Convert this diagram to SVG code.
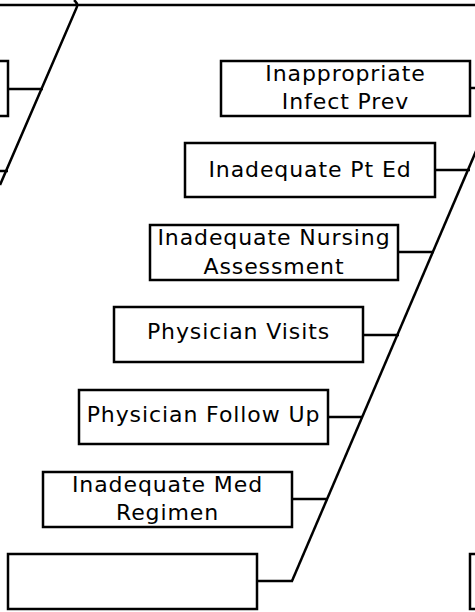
<svg xmlns="http://www.w3.org/2000/svg" width="475" height="612" viewBox="0 0 475 612">
<style>
.box{fill:#fff;stroke:#000;stroke-width:2.5}
.ln{fill:none;stroke:#000;stroke-width:2.5}
.t{font-family:"DejaVu Sans",Verdana,sans-serif;font-size:22px;letter-spacing:0.9px;fill:#000;text-anchor:middle}
</style>
<rect width="475" height="612" fill="#fff"/>
<g id="connectors">
<line class="ln" x1="0" y1="5" x2="475" y2="5"/>
<path class="ln" d="M74 0 Q79 4 76 9 L0 185"/>
<line class="ln" x1="292" y1="581" x2="545" y2="-10"/>
<line class="ln" x1="8" y1="89" x2="43" y2="89"/>
<line class="ln" x1="0" y1="171" x2="8" y2="171"/>
<line class="ln" x1="470" y1="88" x2="475" y2="88"/>
<line class="ln" x1="435" y1="170" x2="470" y2="170"/>
<line class="ln" x1="398" y1="252" x2="434" y2="252"/>
<line class="ln" x1="363" y1="335" x2="399" y2="335"/>
<line class="ln" x1="328" y1="417" x2="363" y2="417"/>
<line class="ln" x1="292" y1="499" x2="328" y2="499"/>
<line class="ln" x1="257" y1="581" x2="293" y2="581"/>
</g>
<g id="node-left-top"><rect class="box" x="-245" y="61" width="253" height="55"/></g>
<g id="node-infect"><rect class="box" x="221" y="61" width="249" height="55"/><text class="t" x="345.5" y="81">Inappropriate</text><text class="t" x="345.5" y="109">Infect Prev</text></g>
<g id="node-pted"><rect class="box" x="185" y="143" width="250" height="54"/><text class="t" x="310" y="177">Inadequate Pt Ed</text></g>
<g id="node-nursing"><rect class="box" x="150" y="225" width="248" height="55"/><text class="t" x="274" y="245">Inadequate Nursing</text><text class="t" x="274" y="274">Assessment</text></g>
<g id="node-visits"><rect class="box" x="114" y="307" width="249" height="55"/><text class="t" x="238.5" y="339">Physician Visits</text></g>
<g id="node-followup"><rect class="box" x="79" y="390" width="249" height="54"/><text class="t" x="203.5" y="422">Physician Follow Up</text></g>
<g id="node-med"><rect class="box" x="43" y="472" width="249" height="55"/><text class="t" x="167.5" y="492">Inadequate Med</text><text class="t" x="167.5" y="520">Regimen</text></g>
<g id="node-empty"><rect class="box" x="8" y="554" width="249" height="55"/></g>
<g id="node-right-bottom"><rect class="box" x="470" y="554" width="249" height="55"/></g>
</svg>
